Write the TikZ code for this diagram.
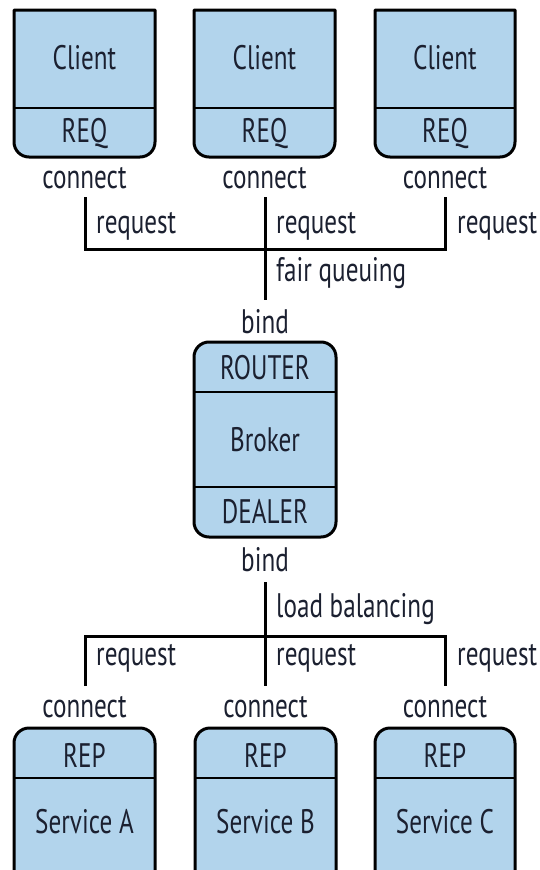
\documentclass[tikz,border=0pt]{standalone}
\usepackage{fontspec}
\setmainfont[FakeStretch=0.74]{PT Sans}
\definecolor{boxfill}{HTML}{B2D4EC}
\definecolor{ink}{HTML}{1B2030}
\tikzset{
  boxline/.style={draw=black, line width=3pt, fill=boxfill, line join=round},
  divline/.style={draw=black, line width=2.6pt},
  wire/.style={draw=black, line width=3pt},
  lbl/.style={inner sep=0pt, text=ink, font=\fontsize{34}{34}\selectfont},
  side/.style={lbl, anchor=west},
}
\begin{document}
\begin{tikzpicture}[x=1pt, y=-1pt]
\useasboundingbox (0,0) rectangle (540,870);

% ---- three clients (flat top, rounded bottom) ----
\foreach \l/\r/\n in {14/155/1, 194/335/2, 375/515/3}{
  \path[boxline] (\l,10) -- (\r,10) -- (\r,142) arc(0:90:15) -- (\l+15,157) arc(90:180:15) -- cycle;
  \draw[divline] (\l,108) -- (\r,108);
  \node[lbl] (client\n) at ({(\l+\r)/2},58) {Client};
  \node[lbl] (req\n) at ({(\l+\r)/2},134) {REQ};
  \node[lbl] (cconn\n) at ({(\l+\r)/2},178) {connect};
}

% ---- broker ----
\path[boxline] (194,357) arc(180:270:15) -- (321,342) arc(270:360:15) -- (336,522) arc(0:90:15) -- (209,537) arc(90:180:15) -- cycle;
\draw[divline] (194,392) -- (336,392);
\draw[divline] (194,487) -- (336,487);
\node[lbl] (router) at (265,368) {ROUTER};
\node[lbl] (broker) at (265,440) {Broker};
\node[lbl] (dealer) at (265,512) {DEALER};
\node[lbl] (bindtop) at (265,322) {bind};
\node[lbl] (bindbot) at (265,560) {bind};

% ---- three services (rounded top, open below) ----
\foreach \l/\r/\n/\s in {14/155/1/A, 195/336/2/B, 375/515/3/C}{
  \path[boxline] (\l,880) -- (\l,743) arc(180:270:15) -- (\r-15,728) arc(270:360:15) -- (\r,880);
  \draw[divline] (\l,778) -- (\r,778);
  \node[lbl] (rep\n) at ({(\l+\r)/2},755) {REP};
  \node[lbl] (service\n) at ({(\l+\r)/2},822) {Service \s};
  \node[lbl] (sconn\n) at ({(\l+\r)/2},707) {connect};
}

% ---- junction points ----
\coordinate (ja) at (85.5,249);
\coordinate (jb) at (265,249);
\coordinate (jc) at (445,249);
\coordinate (ka) at (85.5,636);
\coordinate (kb) at (265,636);
\coordinate (kc) at (445,636);

% ---- request fan-in to the broker ----
\draw[wire] (ja |- 0,197) -- (ja) -- (jc) -- (jc |- 0,197);
\draw[wire] (jb |- 0,197) -- (jb |- 0,300);
\node[side] (rq1) at (96,226) {request};
\node[side] (rq2) at (276,226) {request};
\node[side] (rq3) at (457,226) {request};
\node[side] (fair) at (276,273) {fair queuing};

% ---- request fan-out to the services ----
\draw[wire] (kb |- 0,582) -- (kb |- 0,686);
\draw[wire] (ka |- 0,686) -- (ka) -- (kc) -- (kc |- 0,686);
\node[side] (load) at (276,609) {load balancing};
\node[side] (rs1) at (96,658) {request};
\node[side] (rs2) at (276,658) {request};
\node[side] (rs3) at (457,658) {request};
\end{tikzpicture}
\end{document}
